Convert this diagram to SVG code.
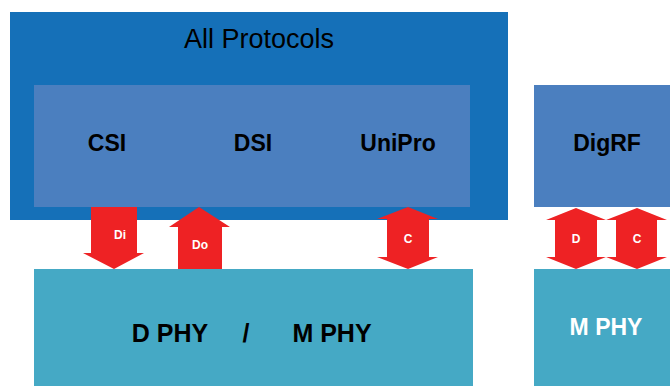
<svg xmlns="http://www.w3.org/2000/svg" width="670" height="386" viewBox="0 0 670 386">
<style>
.outer{fill:#1570B8}
.inner{fill:#4B7FBF}
.phy{fill:#45A9C5}
.arr{fill:#EE2224}
.t{font-family:"Liberation Sans",Arial,sans-serif;fill:#000}
.b{font-weight:bold;font-size:23px;text-anchor:middle}
.p{font-weight:bold;font-size:25px;text-anchor:middle}
.al{font-family:"Liberation Sans",Arial,sans-serif;font-weight:bold;font-size:12px;fill:#fff;text-anchor:middle}
</style>
<rect width="670" height="386" fill="#fff"/>
<g id="all-protocols">
<rect class="outer" x="10" y="12" width="498" height="208"/>
<text class="t" x="259" y="48" font-size="27" text-anchor="middle">All Protocols</text>
</g>
<g id="protocols">
<rect class="inner" x="34" y="85" width="436" height="122"/>
<text class="t b" x="107" y="151">CSI</text>
<text class="t b" x="253" y="151">DSI</text>
<text class="t b" x="398" y="151">UniPro</text>
</g>
<g id="digrf">
<rect class="inner" x="534" y="85" width="136" height="122"/>
<text class="t b" x="607" y="151">DigRF</text>
</g>
<g id="dphy-mphy">
<rect class="phy" x="34" y="269" width="439" height="117"/>
<text class="t p" x="170" y="342">D PHY</text>
<text class="t p" x="246" y="342">/</text>
<text class="t p" x="332" y="342">M PHY</text>
</g>
<g id="mphy">
<rect class="phy" x="534" y="269" width="136" height="117"/>
<text class="t b" x="606" y="335" style="fill:#fff">M PHY</text>
</g>
<g id="connectors">
<polygon class="arr" points="91,207 137,207 137,253 144,253 114,269 83,253 91,253"/>
<text class="al" x="120" y="239">Di</text>
<polygon class="arr" points="199,207 230,227 222,227 222,269 178,269 178,227 169,227"/>
<text class="al" x="200" y="249">Do</text>
<polygon class="arr" points="408,207 438,219 429,219 429,257 438,257 408,269 377,257 387,257 387,219 377,219"/>
<text class="al" x="408" y="243">C</text>
<polygon class="arr" points="576,208 606,220 597,220 597,257 606,257 576,269 546,257 555,257 555,220 546,220"/>
<text class="al" x="576" y="243">D</text>
<polygon class="arr" points="637,208 667,220 657,220 657,257 667,257 637,269 606,257 616,257 616,220 606,220"/>
<text class="al" x="637" y="243">C</text>
</g>
</svg>
